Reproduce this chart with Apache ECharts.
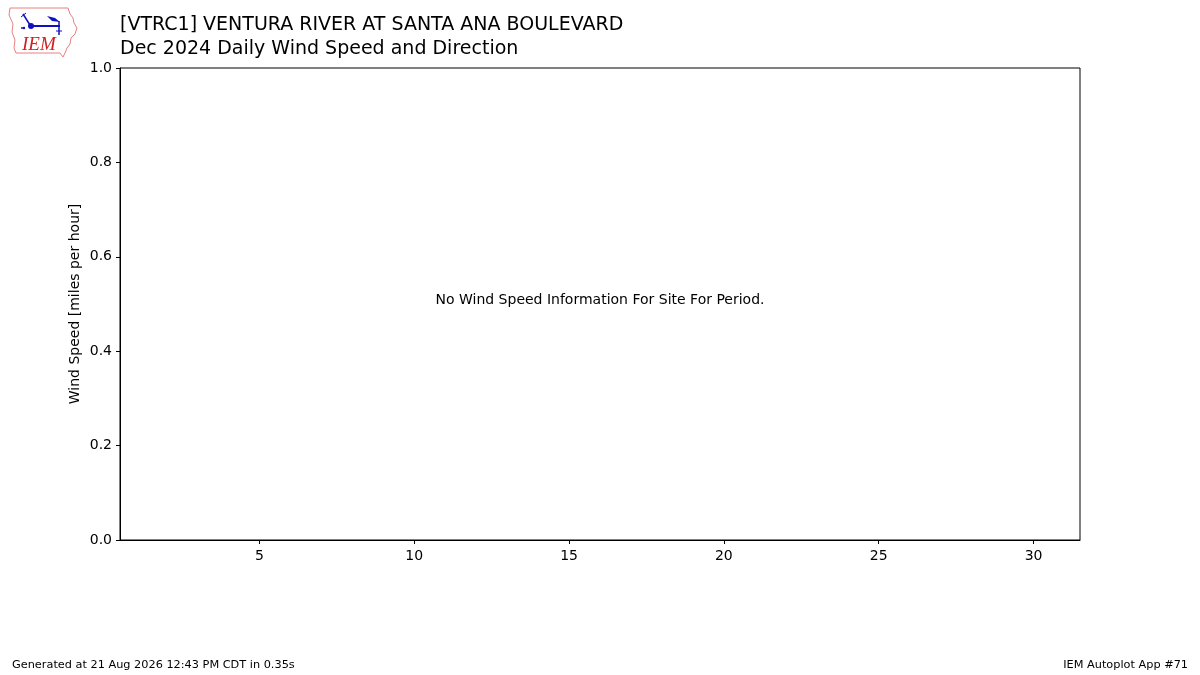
<!DOCTYPE html>
<html lang="en">
<head>
<meta charset="UTF-8">
<title>VTRC1 Daily Wind Speed</title>
<style>
  html, body { margin: 0; padding: 0; background: #fff; }
  #chart { width: 1200px; height: 675px; }
</style>
</head>
<body>
<div id="chart"></div>
<script src="https://cdn.jsdelivr.net/npm/echarts@6/dist/echarts.min.js"></script>
<script>
    // data for the period (none reported for this site)
    var days = [];
    var windSpeed = [];
    var dayTicks = [5, 10, 15, 20, 25, 30];
    var speedTicks = [0, 0.2, 0.4, 0.6, 0.8, 1.0];

    var titleLine1 = '[VTRC1] VENTURA RIVER AT SANTA ANA BOULEVARD';
    var titleLine2 = 'Dec 2024 Daily Wind Speed and Direction';
    var noDataMsg = 'No Wind Speed Information For Site For Period.';
    var footLeft = 'Generated at 21 Aug 2026 12:43 PM CDT in 0.35s';
    var footRight = 'IEM Autoplot App #71';

    var font = 'DejaVu Sans';
    var chart = echarts.init(document.getElementById('chart'));

    var seriesData = [];
    for (var i = 0; i < days.length; i++) {
        seriesData.push([days[i], windSpeed[i]]);
    }

    // IEM logo, rough sketch
    var logo = [
        {
            type: 'polygon',
            shape: {
                points: [[10, 8], [68, 8], [70, 14], [73, 18], [74, 23], [77, 28], [75, 34],
                    [71, 38], [70, 44], [67, 48], [65, 53], [63, 57], [60, 53], [16, 53],
                    [14, 48], [15, 40], [12, 32], [13, 24], [9, 15]]
            },
            style: { fill: '#fff', stroke: '#e88080', lineWidth: 1 }
        },
        { type: 'line', shape: { x1: 30, y1: 26, x2: 60, y2: 26 }, style: { stroke: '#1010c0', lineWidth: 2 } },
        { type: 'circle', shape: { cx: 31, cy: 26, r: 3 }, style: { fill: '#1010c0' } },
        { type: 'line', shape: { x1: 30, y1: 25, x2: 23, y2: 14 }, style: { stroke: '#1010c0', lineWidth: 1.5 } },
        { type: 'line', shape: { x1: 21, y1: 17, x2: 26, y2: 13 }, style: { stroke: '#1010c0', lineWidth: 1 } },
        { type: 'polygon', shape: { points: [[47, 16], [55, 18], [60, 22], [52, 21]] }, style: { fill: '#1010c0' } },
        { type: 'line', shape: { x1: 59, y1: 21, x2: 59, y2: 35 }, style: { stroke: '#1010c0', lineWidth: 1.5 } },
        { type: 'line', shape: { x1: 56, y1: 31, x2: 62, y2: 31 }, style: { stroke: '#1010c0', lineWidth: 1 } },
        { type: 'circle', shape: { cx: 24, cy: 28, r: 1.2 }, style: { fill: '#1010c0' } },
        { type: 'circle', shape: { cx: 22, cy: 28, r: 1 }, style: { fill: '#1010c0' } },
        {
            type: 'text', left: 22, top: 35,
            style: { text: 'IEM', font: 'italic 19px "Liberation Serif", serif', fill: '#d02020' }
        }
    ];

    var option = {
        animation: false,
        backgroundColor: '#fff',
        textStyle: { fontFamily: font, color: '#000' },
        grid: {
            left: 120, right: 120, top: 68, bottom: 135,
            show: true, borderColor: '#000', borderWidth: 1, backgroundColor: 'transparent'
        },
        xAxis: {
            type: 'value',
            min: 0.5,
            max: 31.5,
            splitLine: { show: false },
            axisLine: { show: true, onZero: false, lineStyle: { color: '#000', width: 1 } },
            axisTick: { show: true, length: 4, customValues: dayTicks, lineStyle: { color: '#000' } },
            axisLabel: {
                customValues: dayTicks, color: '#000', fontSize: 14, fontFamily: font, margin: 9,
                showMinLabel: true, showMaxLabel: true
            }
        },
        yAxis: {
            type: 'value',
            min: speedTicks[0],
            max: speedTicks[speedTicks.length - 1],
            interval: 0.2,
            name: 'Wind Speed [miles per hour]',
            nameLocation: 'middle',
            nameGap: 38,
            nameMoveOverlap: false,
            nameTextStyle: { color: '#000', fontSize: 14, fontFamily: font },
            splitLine: { show: false },
            axisLine: { show: true, lineStyle: { color: '#000', width: 1 } },
            axisTick: { show: true, length: 4, lineStyle: { color: '#000' } },
            axisLabel: {
                color: '#000', fontSize: 14, fontFamily: font, margin: 8,
                formatter: function (v) { return v.toFixed(1); }
            }
        },
        series: [
            {
                type: 'line',
                data: seriesData,
                symbol: 'none',
                lineStyle: { color: '#1f77b4' }
            }
        ],
        graphic: logo.concat([
            { type: 'text', left: 120, top: 16, style: { text: titleLine1, font: '19px "DejaVu Sans"', fill: '#000' } },
            { type: 'text', left: 120, top: 40, style: { text: titleLine2, font: '19px "DejaVu Sans"', fill: '#000' } },
            {
                type: 'text', x: 600, y: 300,
                style: { text: noDataMsg, font: '14px "DejaVu Sans"', fill: '#000', align: 'center', verticalAlign: 'middle' }
            },
            { type: 'text', left: 12, top: 660, style: { text: footLeft, font: '11.3px "DejaVu Sans"', fill: '#000' } },
            { type: 'text', right: 12, top: 660, style: { text: footRight, font: '11.3px "DejaVu Sans"', fill: '#000' } }
        ])
    };

    chart.setOption(option);
</script>
</body>
</html>
